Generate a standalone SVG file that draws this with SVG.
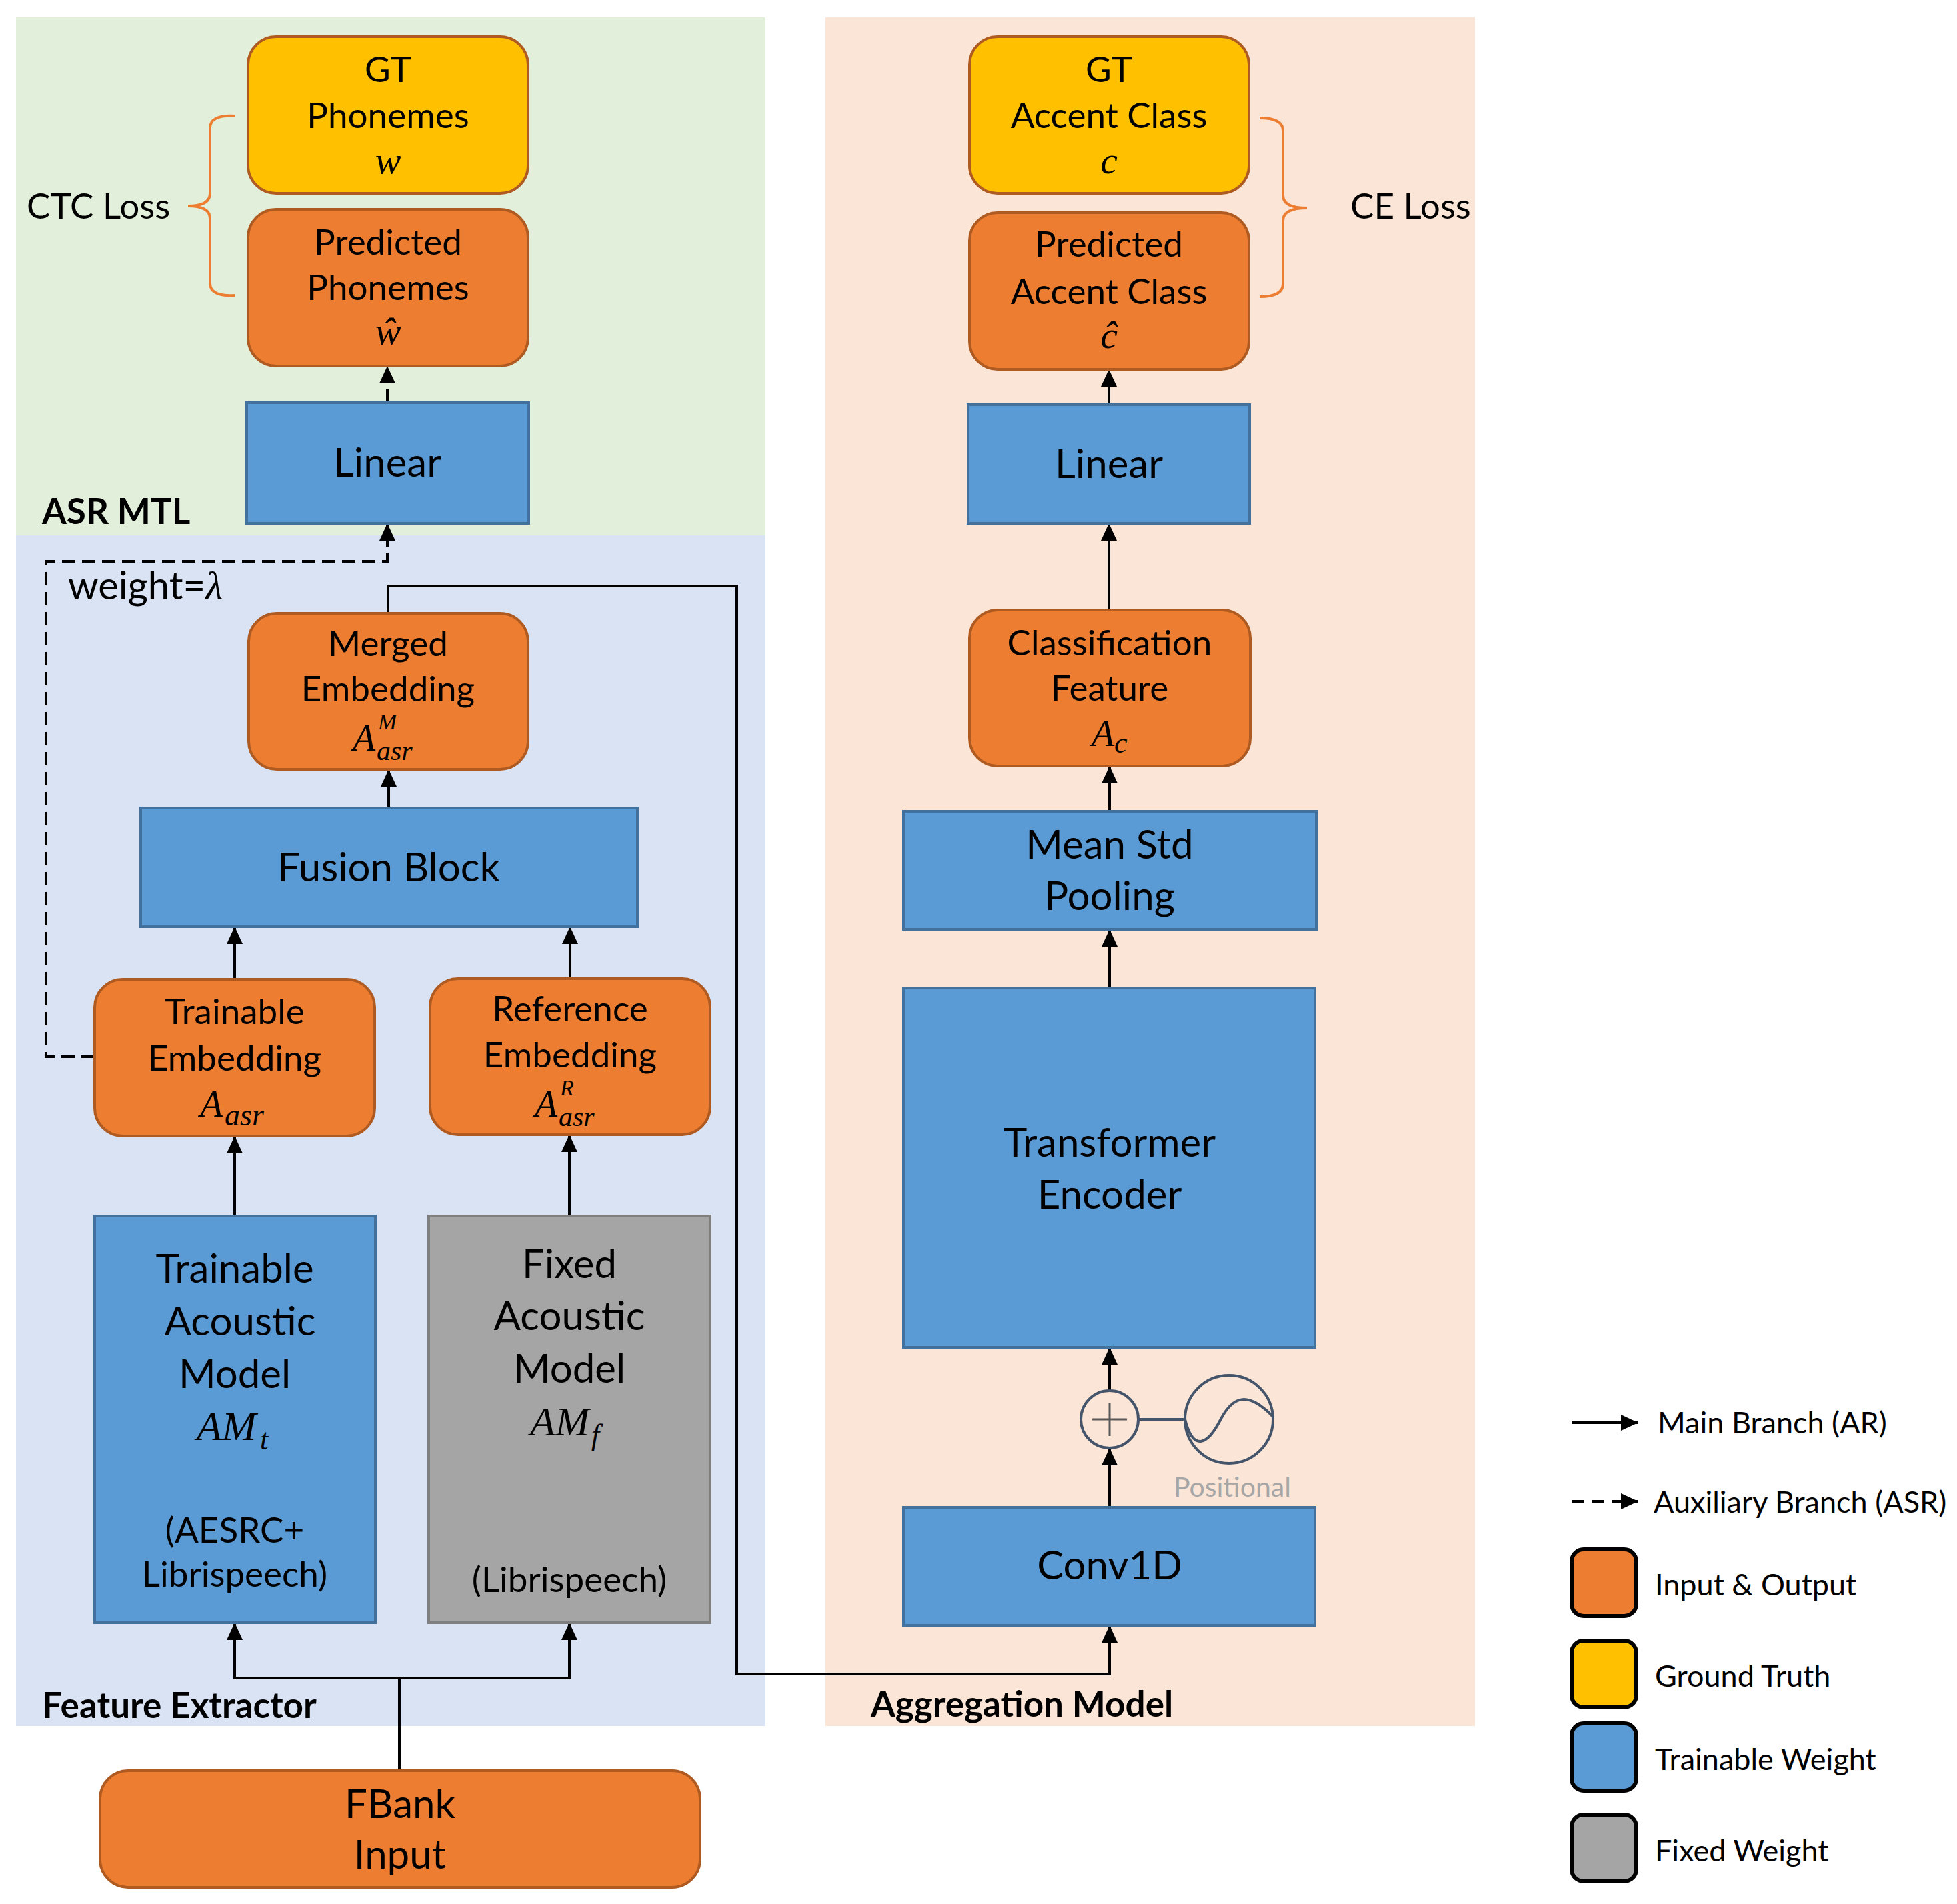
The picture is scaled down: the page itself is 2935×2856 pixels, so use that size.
<svg xmlns="http://www.w3.org/2000/svg" width="2935" height="2856" viewBox="0 0 2935 2856">
<defs>
<style>
.t{font-family:Lato,"Liberation Sans","DejaVu Sans",sans-serif;font-size:53px;text-anchor:middle;fill:#000}
.big{font-size:60px}
.lbl{font-weight:bold;text-anchor:start}
.leg{font-size:45px;text-anchor:start}
.m{font-family:"Liberation Serif","DejaVu Serif",serif;font-style:italic;fill:#000}
.io{fill:#ED7D31;stroke:#AE5A21;stroke-width:4}
.gt{fill:#FFC000;stroke:#AE5A21;stroke-width:4}
.tw{fill:#5B9BD5;stroke:#41719C;stroke-width:4}
.fw{fill:#A5A5A5;stroke:#7F7F7F;stroke-width:4}
.c{fill:none;stroke:#000;stroke-width:4}
.d{stroke-dasharray:20 10}
.br{fill:none;stroke:#ED7D31;stroke-width:4}
.pe{fill:none;stroke:#44546A;stroke-width:4}
.sw{stroke:#000;stroke-width:6}
</style>
<marker id="ah" markerUnits="userSpaceOnUse" viewBox="0 0 26 24" refX="26" refY="12" markerWidth="26" markerHeight="24" orient="auto">
<path d="M0,0 L26,12 L0,24 z" fill="#000"/>
</marker>
</defs>
<rect width="2935" height="2856" fill="#fff"/>
<g id="regions">
<rect x="24" y="26" width="1124" height="778" fill="#E2EFDA"/>
<rect x="24" y="803" width="1124" height="1786" fill="#DAE3F3"/>
<rect x="1238" y="26" width="974" height="2563" fill="#FBE5D6"/>
<text class="t lbl" x="63" y="786">ASR MTL</text>
<text class="t lbl" x="63" y="2577">Feature Extractor</text>
<text class="t lbl" x="1306" y="2575">Aggregation Model</text>
</g>
<g id="connectors">
<path class="c d" d="M581,604 V549" marker-end="url(#ah)"/>
<path class="c d" d="M142,1585 H69 V842 H581 V785" marker-end="url(#ah)"/>
<path class="c" d="M582,920 V879 H1105 V2511 H1664 V2438" marker-end="url(#ah)"/>
<path class="c" d="M583,1212 V1154" marker-end="url(#ah)"/>
<path class="c" d="M352,1469 V1390" marker-end="url(#ah)"/>
<path class="c" d="M855,1468 V1390" marker-end="url(#ah)"/>
<path class="c" d="M352,1824 V1704" marker-end="url(#ah)"/>
<path class="c" d="M854,1824 V1702" marker-end="url(#ah)"/>
<path class="c" d="M599,2656 V2517 H352 V2434" marker-end="url(#ah)"/>
<path class="c" d="M599,2517 H854 V2434" marker-end="url(#ah)"/>
<path class="c" d="M1664,2261 V2172" marker-end="url(#ah)"/>
<path class="c" d="M1664,2086 V2021" marker-end="url(#ah)"/>
<path class="c" d="M1664,1482 V1394" marker-end="url(#ah)"/>
<path class="c" d="M1664,1217 V1149" marker-end="url(#ah)"/>
<path class="c" d="M1663,915 V785" marker-end="url(#ah)"/>
<path class="c" d="M1663,607 V554" marker-end="url(#ah)"/>
</g>
<g id="ctc-loss">
<path class="br" d="M352,174 Q315,172 315,192 V290 Q315,309 282,309 Q315,309 315,328 V425 Q315,445 352,443"/>
<text class="t" x="40" y="328" style="text-anchor:start">CTC Loss</text>
</g>
<g id="ce-loss">
<path class="br" d="M1889,177 Q1924,177 1924,196 V293 Q1924,312 1960,312 Q1924,312 1924,331 V426 Q1924,445 1889,445"/>
<text class="t" x="2025" y="328" style="text-anchor:start">CE Loss</text>
</g>
<g id="gt-phonemes">
<rect class="gt" x="372" y="55" width="420" height="235" rx="42"/>
<text class="t" x="582" y="123">GT</text>
<text class="t" x="582" y="192">Phonemes</text>
<text class="m" x="582" y="260" font-size="58" text-anchor="middle">w</text>
</g>
<g id="pred-phonemes">
<rect class="io" x="372" y="314" width="420" height="235" rx="42"/>
<text class="t" x="582" y="382">Predicted</text>
<text class="t" x="582" y="450">Phonemes</text>
<text class="m" x="582" y="516" font-size="58" text-anchor="middle">ŵ</text>
</g>
<g id="asr-linear">
<rect class="tw" x="370" y="604" width="423" height="181"/>
<text class="t big" x="581" y="715">Linear</text>
</g>
<text class="t" x="102" y="899" style="text-anchor:start;font-size:58px">weight=<tspan class="m" font-size="60">λ</tspan></text>
<g id="merged-emb">
<rect class="io" x="373" y="920" width="419" height="234" rx="42"/>
<text class="t" x="582" y="984">Merged</text>
<text class="t" x="582" y="1052">Embedding</text>
<text class="m"><tspan x="529" y="1126" font-size="56">A</tspan><tspan x="567" y="1094" font-size="34">M</tspan><tspan x="565" y="1140" font-size="42">asr</tspan></text>
</g>
<g id="fusion-block">
<rect class="tw" x="211" y="1212" width="745" height="178"/>
<text class="t big" x="583" y="1322">Fusion Block</text>
</g>
<g id="trainable-emb">
<rect class="io" x="142" y="1469" width="420" height="235" rx="42"/>
<text class="t" x="352" y="1536">Trainable</text>
<text class="t" x="352" y="1606">Embedding</text>
<text class="m"><tspan x="300" y="1675" font-size="56">A</tspan><tspan x="337" y="1688" font-size="46">asr</tspan></text>
</g>
<g id="reference-emb">
<rect class="io" x="645" y="1468" width="420" height="234" rx="42"/>
<text class="t" x="855" y="1532">Reference</text>
<text class="t" x="855" y="1601">Embedding</text>
<text class="m"><tspan x="802" y="1675" font-size="56">A</tspan><tspan x="840" y="1643" font-size="34">R</tspan><tspan x="838" y="1689" font-size="42">asr</tspan></text>
</g>
<g id="trainable-am">
<rect class="tw" x="142" y="1824" width="421" height="610"/>
<text class="t big" x="352" y="1924">Trainable</text>
<text class="t big" x="360" y="2003">Acoustic</text>
<text class="t big" x="352" y="2082">Model</text>
<text class="m"><tspan x="295" y="2160" font-size="62">AM</tspan><tspan x="390" y="2174" font-size="44">t</tspan></text>
<text class="t" x="352" y="2314">(AESRC+</text>
<text class="t" x="352" y="2380">Librispeech)</text>
</g>
<g id="fixed-am">
<rect class="fw" x="643" y="1824" width="422" height="610"/>
<text class="t big" x="854" y="1917">Fixed</text>
<text class="t big" x="854" y="1995">Acoustic</text>
<text class="t big" x="854" y="2074">Model</text>
<text class="m"><tspan x="795" y="2153" font-size="62">AM</tspan><tspan x="887" y="2167" font-size="44">f</tspan></text>
<text class="t" x="854" y="2388">(Librispeech)</text>
</g>
<g id="fbank-input">
<rect class="io" x="150" y="2656" width="900" height="175" rx="42"/>
<text class="t big" x="600" y="2727">FBank</text>
<text class="t big" x="600" y="2803">Input</text>
</g>
<g id="gt-accent">
<rect class="gt" x="1454" y="55" width="419" height="235" rx="42"/>
<text class="t" x="1663" y="123">GT</text>
<text class="t" x="1663" y="192">Accent Class</text>
<text class="m" x="1663" y="260" font-size="58" text-anchor="middle">c</text>
</g>
<g id="pred-accent">
<rect class="io" x="1454" y="319" width="419" height="235" rx="42"/>
<text class="t" x="1663" y="385">Predicted</text>
<text class="t" x="1663" y="456">Accent Class</text>
<text class="m" x="1663" y="522" font-size="58" text-anchor="middle">ĉ</text>
</g>
<g id="ar-linear">
<rect class="tw" x="1452" y="607" width="422" height="178"/>
<text class="t big" x="1663" y="717">Linear</text>
</g>
<g id="class-feature">
<rect class="io" x="1454" y="915" width="421" height="234" rx="42"/>
<text class="t" x="1664" y="983">Classification</text>
<text class="t" x="1664" y="1051">Feature</text>
<text class="m"><tspan x="1637" y="1119" font-size="56">A</tspan><tspan x="1671" y="1129" font-size="44">c</tspan></text>
</g>
<g id="mean-std-pooling">
<rect class="tw" x="1355" y="1217" width="619" height="177"/>
<text class="t big" x="1664" y="1288">Mean Std</text>
<text class="t big" x="1664" y="1365">Pooling</text>
</g>
<g id="transformer">
<rect class="tw" x="1355" y="1482" width="617" height="539"/>
<text class="t big" x="1664" y="1735">Transformer</text>
<text class="t big" x="1664" y="1813">Encoder</text>
</g>
<g id="positional">
<circle class="pe" cx="1664" cy="2129" r="43"/>
<path d="M1638,2129 H1690 M1664,2104 V2154" stroke="#595959" stroke-width="3" fill="none"/>
<path class="pe" d="M1707,2129 H1777"/>
<circle class="pe" cx="1843" cy="2129" r="66"/>
<path class="pe" d="M1777,2129 C1790,2180 1812,2165 1830,2130 C1848,2095 1870,2085 1909,2125"/>
<text class="t" x="1760" y="2245" style="text-anchor:start;font-size:41px;fill:#A6A6A6">Positional</text>
</g>
<g id="conv1d">
<rect class="tw" x="1355" y="2261" width="617" height="177"/>
<text class="t big" x="1664" y="2369">Conv1D</text>
</g>
<g id="legend">
<path class="c" d="M2358,2134 H2457" marker-end="url(#ah)"/>
<text class="t leg" x="2486" y="2150">Main Branch (AR)</text>
<path class="c" d="M2358,2252 H2435" style="stroke-dasharray:18 12"/>
<path class="c" d="M2431,2252 H2457" marker-end="url(#ah)"/>
<text class="t leg" x="2480" y="2269">Auxiliary Branch (ASR)</text>
<rect class="sw" x="2357" y="2324" width="97" height="100" rx="18" fill="#ED7D31"/>
<text class="t leg" x="2482" y="2393">Input &amp; Output</text>
<rect class="sw" x="2357" y="2461" width="97" height="100" rx="18" fill="#FFC000"/>
<text class="t leg" x="2482" y="2530">Ground Truth</text>
<rect class="sw" x="2357" y="2585" width="97" height="101" rx="18" fill="#5B9BD5"/>
<text class="t leg" x="2482" y="2655">Trainable Weight</text>
<rect class="sw" x="2357" y="2722" width="97" height="100" rx="18" fill="#A5A5A5"/>
<text class="t leg" x="2482" y="2792">Fixed Weight</text>
</g>
</svg>
